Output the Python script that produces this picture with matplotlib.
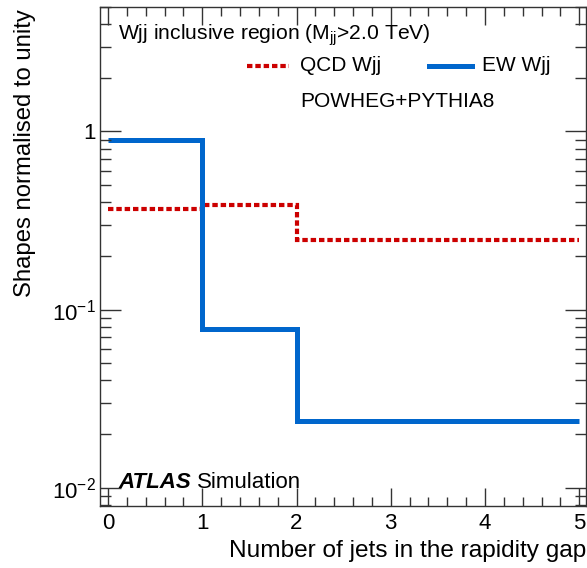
import numpy as np
import matplotlib
matplotlib.use('Agg')
import matplotlib.pyplot as plt
from matplotlib.lines import Line2D
from matplotlib.ticker import LogLocator, MultipleLocator, FixedLocator

plt.rcParams['font.family'] = ['Liberation Sans', 'DejaVu Sans']
plt.rcParams['mathtext.fontset'] = 'custom'
plt.rcParams['mathtext.rm'] = 'Liberation Sans'
plt.rcParams['mathtext.it'] = 'Liberation Sans:italic'

# bin edges: number of jets in the rapidity gap
edges = [0, 1, 2, 5]
# shapes normalised to unity
qcd_wjj = [0.369, 0.389, 0.247]
ew_wjj = [0.90, 0.078, 0.0238]

fig = plt.figure(figsize=(5.87, 5.68), dpi=100)
ax = fig.add_axes([0.1704, 0.1092, 0.8276, 0.8785])

red_style = dict(color='#cc0000', lw=3.0, linestyle=(0, (1.3, 0.7)))
blue_style = dict(color='#0066cc', lw=3.6)

ax.stairs(qcd_wjj, edges, baseline=None, **red_style)
ax.stairs(ew_wjj, edges, baseline=None, **blue_style)

ax.set_yscale('log')
ax.set_xlim(-0.085, 5.07)
ax.set_ylim(0.0079, 5.0)

ax.xaxis.set_major_locator(MultipleLocator(1))
ax.xaxis.set_minor_locator(MultipleLocator(0.2))
ax.yaxis.set_major_locator(FixedLocator([0.01, 0.1, 1]))
ax.yaxis.set_minor_locator(LogLocator(base=10, subs=np.arange(2, 10)))
ax.set_yticklabels([r'$10^{-2}$', r'$10^{-1}$', '1'])
ax.yaxis.set_minor_formatter(plt.NullFormatter())

ax.tick_params(which='both', direction='in', top=True, right=True,
               labelsize=16, color='#333333', width=1.0)
ax.tick_params(axis='x', which='major', length=13, pad=5)
ax.tick_params(axis='x', which='minor', length=6.5)
ax.tick_params(axis='y', which='major', length=15, pad=3)
ax.tick_params(axis='y', which='minor', length=8)
for s in ax.spines.values():
    s.set_color('#333333')
    s.set_linewidth(1.0)

# axis titles placed ROOT-style (aligned to the axis ends)
fig.text(586 / 587, 1 - 557 / 568, 'Number of jets in the rapidity gap',
         fontsize=17.6, ha='right', va='baseline')
fig.text(25 / 587, 1 - 9 / 568, 'Shapes normalised to unity',
         fontsize=17.2, rotation=90, ha='center', va='top')

ax.text(0.037, 0.935, r'Wjj inclusive region (M$_{\mathrm{jj}}$>2.0 TeV)',
        transform=ax.transAxes, fontsize=15.2, va='baseline')
ax.text(0.412, 0.882, 'QCD Wjj', transform=ax.transAxes, fontsize=15,
        va='center')
ax.text(0.786, 0.882, 'EW Wjj', transform=ax.transAxes, fontsize=15,
        va='center')
ax.add_line(Line2D([0.302, 0.389], [0.882, 0.882], transform=ax.transAxes,
                   **red_style))
ax.add_line(Line2D([0.677, 0.765], [0.882, 0.882], transform=ax.transAxes,
                   **blue_style))
ax.text(0.412, 0.81, 'POWHEG+PYTHIA8', transform=ax.transAxes,
        fontsize=15, va='center')

ax.text(0.037, 0.037, 'ATLAS', transform=ax.transAxes, fontsize=16,
        fontweight='bold', fontstyle='italic', va='baseline')
ax.text(0.2, 0.037, 'Simulation', transform=ax.transAxes, fontsize=16,
        va='baseline')

fig.savefig('out.png', dpi=100)
